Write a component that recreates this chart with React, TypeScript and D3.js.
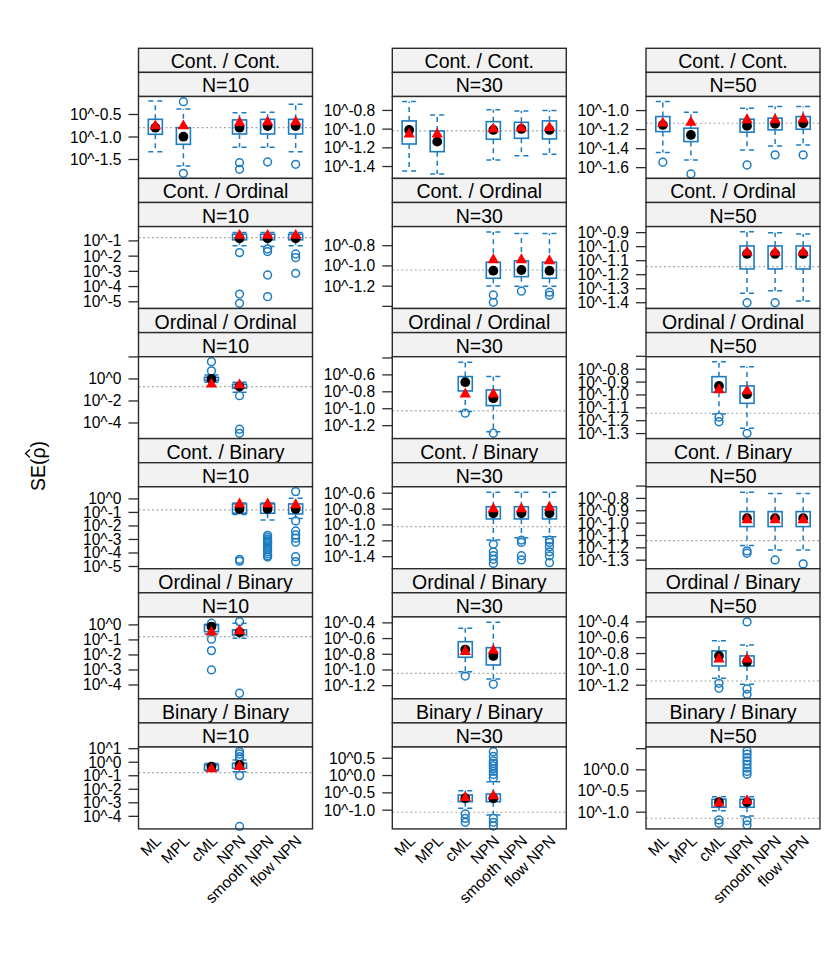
import * as d3 from "d3";

const methods = ["ML", "MPL", "cML", "NPN", "smooth NPN", "flow NPN"];
const pairLabels = [
  "Cont. / Cont.",
  "Cont. / Ordinal",
  "Ordinal / Ordinal",
  "Cont. / Binary",
  "Ordinal / Binary",
  "Binary / Binary",
];
const sizeLabels = ["N=10", "N=30", "N=50"];

// panel y limits in log10 units, row by row (N=10, N=30, N=50)
const yLimits: [number, number][][] = [
  [[-1.92, -0.1], [-1.527, -0.651], [-1.713, -0.852]],
  [[-5.44, -0.06], [-1.421, -0.611], [-1.441, -0.857]],
  [[-5.42, 2.02], [-1.353, -0.385], [-1.339, -0.703]],
  [[-5.163, 0.896], [-1.551, -0.519], [-1.369, -0.706]],
  [[-4.92, 0.533], [-1.367, -0.324], [-1.372, -0.337]],
  [[-4.93, 1.126], [-1.54, 0.824], [-1.395, 0.539]],
];

const yTicks: number[][][] = [
  [[-0.5, -1, -1.5], [-0.8, -1, -1.2, -1.4], [-1, -1.2, -1.4, -1.6]],
  [[-1, -2, -3, -4, -5], [-0.8, -1, -1.2, -1.4], [-0.9, -1, -1.1, -1.2, -1.3, -1.4]],
  [[2, 0, -2, -4], [-0.4, -0.6, -0.8, -1, -1.2], [-0.7, -0.8, -0.9, -1, -1.1, -1.2, -1.3]],
  [[0, -1, -2, -3, -4, -5], [-0.6, -0.8, -1, -1.2, -1.4], [-0.7, -0.8, -0.9, -1, -1.1, -1.2, -1.3]],
  [[0, -1, -2, -3, -4], [-0.4, -0.6, -0.8, -1, -1.2], [-0.4, -0.6, -0.8, -1, -1.2]],
  [[1, 0, -1, -2, -3, -4], [0.5, 0, -0.5, -1], [0.5, 0, -0.5, -1]],
];

const yTickLabels: string[][][] = [
  [["10^-0.5", "10^-1.0", "10^-1.5"], ["10^-0.8", "10^-1.0", "10^-1.2", "10^-1.4"], ["10^-1.0", "10^-1.2", "10^-1.4", "10^-1.6"]],
  [["10^-1", "10^-2", "10^-3", "10^-4", "10^-5"], ["10^-0.8", "10^-1.0", "10^-1.2", ""], ["10^-0.9", "10^-1.0", "10^-1.1", "10^-1.2", "10^-1.3", "10^-1.4"]],
  [["", "10^0", "10^-2", "10^-4"], ["", "10^-0.6", "10^-0.8", "10^-1.0", "10^-1.2"], ["", "10^-0.8", "10^-0.9", "10^-1.0", "10^-1.1", "10^-1.2", "10^-1.3"]],
  [["10^0", "10^-1", "10^-2", "10^-3", "10^-4", "10^-5"], ["10^-0.6", "10^-0.8", "10^-1.0", "10^-1.2", "10^-1.4"], ["", "10^-0.8", "10^-0.9", "10^-1.0", "10^-1.1", "10^-1.2", "10^-1.3"]],
  [["10^0", "10^-1", "10^-2", "10^-3", "10^-4"], ["10^-0.4", "10^-0.6", "10^-0.8", "10^-1.0", "10^-1.2"], ["10^-0.4", "10^-0.6", "10^-0.8", "10^-1.0", "10^-1.2"]],
  [["10^1", "10^0", "10^-1", "10^-2", "10^-3", "10^-4"], ["10^0.5", "10^0.0", "10^-0.5", "10^-1.0"], ["", "10^0.0", "10^-0.5", "10^-1.0"]],
];

// dotted reference level (log10)
const refLines: number[][] = [
  [-0.79, -1.019, -1.133],
  [-0.78, -1.04, -1.143],
  [-0.7, -1.026, -1.142],
  [-0.815, -1.02, -1.142],
  [-0.78, -1.042, -1.147],
  [-0.77, -1.06, -1.144],
];

// [lower whisker, q1, q3, upper whisker, median (dot), mean (triangle), outliers]
type Stat = [number, number, number, number, number, number, number[]] | null;

const contCont: Stat[][] = [
  [
    [-1.327, -0.94, -0.607, -0.2, -0.793, -0.756, []],
    [-1.644, -1.162, -0.793, -0.378, -0.993, -0.756, [-0.216, -1.807]],
    null,
    [-1.229, -0.933, -0.62, -0.46, -0.793, -0.68, [-1.571, -1.718]],
    [-1.23, -0.933, -0.607, -0.45, -0.756, -0.667, [-1.556]],
    [-1.327, -0.933, -0.607, -0.273, -0.756, -0.667, [-1.607]],
  ],
  [
    [-1.448, -1.159, -0.912, -0.705, -1.009, -1.055, []],
    [-1.48, -1.241, -1.019, -0.848, -1.134, -1.055, []],
    null,
    [-1.33, -1.108, -0.92, -0.794, -1.009, -0.998, []],
    [-1.284, -1.098, -0.927, -0.805, -0.998, -0.99, []],
    [-1.27, -1.105, -0.912, -0.8, -1.009, -0.984, []],
  ],
  [
    [-1.442, -1.221, -1.063, -0.905, -1.151, -1.133, [-1.543]],
    [-1.519, -1.326, -1.185, -1.017, -1.256, -1.126, [-1.666]],
    null,
    [-1.414, -1.227, -1.09, -0.975, -1.161, -1.098, [-1.572]],
    [-1.372, -1.203, -1.08, -0.958, -1.14, -1.098, [-1.466]],
    [-1.361, -1.196, -1.063, -0.958, -1.133, -1.09, [-1.466]],
  ],
];

const contOrd: Stat[][] = [
  [
    null, null, null,
    [-1.31, -0.93, -0.56, -0.45, -0.82, -0.65, [-1.77, -4.49, -5.1]],
    [-1.375, -0.93, -0.56, -0.45, -0.82, -0.65, [-1.53, -1.7, -3.24, -4.66]],
    [-1.31, -0.93, -0.56, -0.45, -0.82, -0.65, [-1.86, -2.1, -3.13]],
  ],
  [
    null, null, null,
    [-1.198, -1.122, -0.963, -0.664, -1.047, -0.94, [-1.287, -1.36]],
    [-1.2, -1.106, -0.95, -0.68, -1.04, -0.94, [-1.25]],
    [-1.2, -1.122, -0.963, -0.68, -1.047, -0.95, [-1.26, -1.29]],
  ],
  [
    null, null, null,
    [-1.333, -1.159, -0.995, -0.893, -1.052, -1.04, [-1.4]],
    [-1.314, -1.159, -0.995, -0.9, -1.052, -1.04, [-1.4]],
    [-1.388, -1.159, -0.995, -0.909, -1.052, -1.04, []],
  ],
];

const ordOrd: Stat[][] = [
  [
    null, null,
    [-0.3, -0.15, 0.15, 0.35, 0, -0.48, [1.57, 0.73]],
    [-1.2, -0.85, -0.48, -0.3, -0.7, -0.55, [-1.52, -4.57, -4.94]],
    null, null,
  ],
  [
    null, null,
    [-1.034, -0.79, -0.62, -0.451, -0.686, -0.828, [-1.053]],
    [-1.271, -0.963, -0.778, -0.62, -0.876, -0.828, [-1.29]],
    null, null,
  ],
  [
    null, null,
    [-1.148, -0.979, -0.858, -0.743, -0.93, -0.961, [-1.173, -1.208]],
    [-1.259, -1.065, -0.93, -0.781, -0.995, -0.969, [-1.298]],
    null, null,
  ],
];

const contBin: Stat[][] = [
  [
    null, null, null,
    [-1.15, -1.06, -0.37, -0.3, -0.74, -0.39, [-4.47, -4.6]],
    [-1.56, -1.06, -0.37, -0.3, -0.74, -0.39, [-2.7, -2.85, -3.0, -3.1, -3.2, -3.3, -3.45, -3.6, -3.75, -3.9, -4.05, -4.2, -4.3]],
    [-1.45, -1.11, -0.37, 0.05, -0.74, -0.44, [0.54, -1.63, -2.37, -2.67, -2.91, -3.21, -4.27, -4.64]],
  ],
  [
    null, null, null,
    [-1.19, -0.924, -0.77, -0.587, -0.852, -0.798, [-1.244, -1.338, -1.387, -1.433, -1.484]],
    [-1.16, -0.924, -0.77, -0.587, -0.852, -0.798, [-1.19, -1.22, -1.387, -1.441]],
    [-1.148, -0.924, -0.77, -0.587, -0.852, -0.778, [-1.19, -1.22, -1.273, -1.338, -1.39, -1.475]],
  ],
  [
    null, null, null,
    [-1.182, -1.028, -0.907, -0.75, -0.96, -0.974, [-1.225, -1.244]],
    [-1.217, -1.028, -0.907, -0.76, -0.96, -0.974, [-1.298]],
    [-1.217, -1.028, -0.907, -0.76, -0.96, -0.974, [-1.33]],
  ],
];

const ordBin: Stat[][] = [
  [
    null, null,
    [-0.6, -0.45, 0.0, 0.05, -0.11, -0.49, [0.11, -0.95, -1.71, -3.0]],
    [-0.89, -0.67, -0.33, 0.11, -0.49, -0.4, [0.22, -4.55]],
    null, null,
  ],
  [
    null, null,
    [-1.022, -0.838, -0.64, -0.469, -0.74, -0.766, [-1.077]],
    [-1.115, -0.936, -0.716, -0.391, -0.821, -0.753, [-1.182]],
    null, null,
  ],
  [
    null, null,
    [-1.113, -0.957, -0.767, -0.637, -0.83, -0.872, [-1.176, -1.239]],
    [-1.189, -0.957, -0.83, -0.691, -0.903, -0.872, [-0.4, -1.248, -1.315]],
    null, null,
  ],
];

const binBin: Stat[][] = [
  [
    null, null,
    [-0.65, -0.57, -0.2, -0.1, -0.33, -0.5, []],
    [-0.7, -0.44, -0.07, 0.17, -0.2, -0.33, [0.79, 0.61, 0.41, 0.24, -0.99, -4.75]],
    null, null,
  ],
  [
    null, null,
    [-0.945, -0.754, -0.561, -0.437, -0.656, -0.64, [-1.11, -1.236, -1.35]],
    [-1.14, -0.754, -0.532, -0.176, -0.656, -0.59, [0.69, 0.55, 0.42, 0.35, 0.28, 0.2, 0.12, 0.03, -0.07, -1.236, -1.35, -1.457]],
    null, null,
  ],
  [
    null, null,
    [-0.964, -0.884, -0.695, -0.634, -0.766, -0.79, [-1.184, -1.262]],
    [-1.09, -0.884, -0.695, -0.634, -0.766, -0.73, [0.447, 0.37, 0.29, 0.21, 0.13, 0.04, -0.04, -0.104, -1.2, -1.3]],
    null, null,
  ],
];

const stats: Stat[][][] = [contCont, contOrd, ordOrd, contBin, ordBin, binBin];

const W = 840, H = 960;
const colLeft = [138.5, 392.3, 646];
const panelW = 174;
const rowTop0 = 48.3, rowStep = 130.1, stripH = 24.1;
const BLUE = "#1c7cc2";
const FONT = "'Liberation Sans', Arial, Helvetica, sans-serif";

function Panel({ r, c }: { r: number; c: number }) {
  const left = colLeft[c];
  const right = left + panelW;
  const top = rowTop0 + r * rowStep;
  const pt = top + 2 * stripH;
  const pb = top + rowStep;
  const x = d3.scaleLinear().domain([0.4, 6.6]).range([left, right]);
  const y = d3.scaleLinear().domain(yLimits[r][c]).range([pb, pt]);
  const hw = x(1.25) - x(1);
  const tri = d3.symbol(d3.symbolTriangle, 56)()!;

  return (
    <g>
      {[pairLabels[r], sizeLabels[c]].map((lab, k) => (
        <g key={k}>
          <rect x={left} y={top + k * stripH} width={panelW} height={stripH}
            fill="#f2f2f2" stroke="#2b2b2b" strokeWidth={1.4} />
          <text x={(left + right) / 2} y={top + k * stripH + stripH / 2 + 1}
            textAnchor="middle" dominantBaseline="central" fontSize={19.5} fill="#000">
            {lab}
          </text>
        </g>
      ))}
      <rect x={left} y={pt} width={panelW} height={pb - pt} fill="#fff" stroke="none" />
      {yTicks[r][c].map((t, k) => (
        <g key={k}>
          <line x1={left - 10} x2={left} y1={y(t)} y2={y(t)} stroke="#2b2b2b" strokeWidth={1.3} />
          <text x={left - 17} y={y(t)} textAnchor="end" dominantBaseline="central" fontSize={15.6}>
            {yTickLabels[r][c][k]}
          </text>
        </g>
      ))}
      <line x1={left} x2={right} y1={y(refLines[r][c])} y2={y(refLines[r][c])}
        stroke="#a8a8a8" strokeWidth={1.2} strokeDasharray="2,2.5" />
      {stats[r][c].map((s, i) => {
        if (!s) return null;
        const [wlo, q1, q3, whi, med, mean, out] = s;
        const xc = x(i + 1);
        return (
          <g key={i}>
            <g stroke={BLUE} strokeWidth={1.5} fill="none" strokeDasharray="5,4">
              <line x1={xc} x2={xc} y1={y(q3)} y2={y(whi)} />
              <line x1={xc} x2={xc} y1={y(q1)} y2={y(wlo)} />
              <line x1={xc - hw} x2={xc + hw} y1={y(whi)} y2={y(whi)} />
              <line x1={xc - hw} x2={xc + hw} y1={y(wlo)} y2={y(wlo)} />
            </g>
            <rect x={xc - hw} y={y(q3)} width={2 * hw} height={y(q1) - y(q3)}
              fill="none" stroke={BLUE} strokeWidth={1.6} />
            {out.map((o, k) => (
              <circle key={k} cx={xc} cy={y(o)} r={3.9} fill="none" stroke={BLUE} strokeWidth={1.5} />
            ))}
            <circle cx={xc} cy={y(med)} r={4.9} fill="#000" />
            <path d={tri} transform={`translate(${xc},${y(mean)})`} fill="#ff0000" />
          </g>
        );
      })}
      <rect x={left} y={pt} width={panelW} height={pb - pt} fill="none" stroke="#2b2b2b" strokeWidth={1.4} />
    </g>
  );
}

export default function App() {
  const lastBottom = rowTop0 + 6 * rowStep;
  return (
    <svg width={W} height={H} viewBox={`0 0 ${W} ${H}`}
      style={{ position: "absolute", left: 0, top: 0, background: "#fff" }} fontFamily={FONT}>
      <rect x={0} y={0} width={W} height={H} fill="#fff" />
      {pairLabels.map((_, r) =>
        sizeLabels.map((__, c) => <Panel key={`${r}-${c}`} r={r} c={c} />)
      )}
      {colLeft.map((left, c) => {
        const x = d3.scaleLinear().domain([0.4, 6.6]).range([left, left + panelW]);
        return methods.map((m, i) => (
          <text key={`${c}-${i}`} transform={`translate(${x(i + 1) + 3},${lastBottom + 9}) rotate(-45)`}
            textAnchor="end" dominantBaseline="central" fontSize={15.6}>
            {m}
          </text>
        ));
      })}
      <g transform="translate(38,466) rotate(-90)">
        <text x={0} y={0} textAnchor="middle" dominantBaseline="central" fontSize={19.5}>
          SE(ρ)
        </text>
        {/* hat over rho */}
        <path d="M8.5,-8 L12.5,-12.5 L16.5,-8" fill="none" stroke="#000" strokeWidth={1.3} />
      </g>
    </svg>
  );
}
